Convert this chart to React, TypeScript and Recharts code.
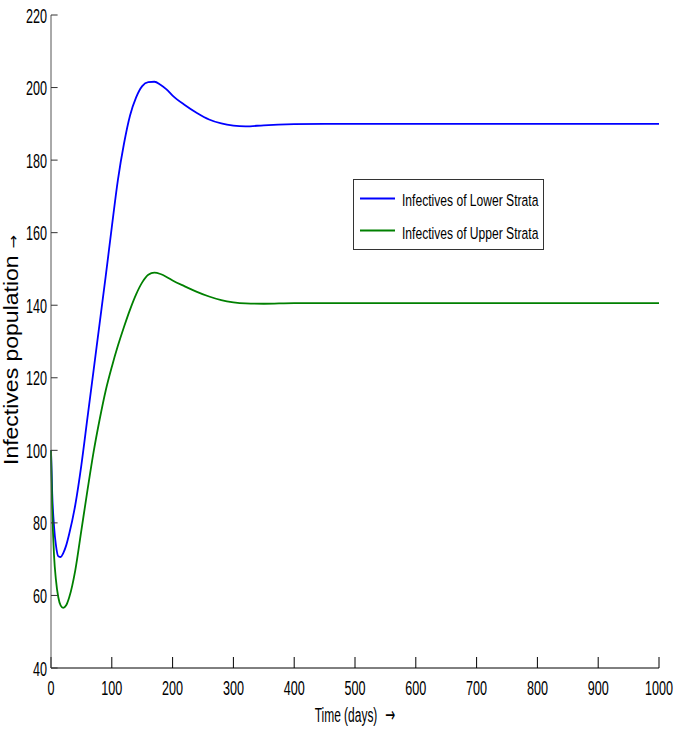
import { LineChart, Line, XAxis, YAxis, Legend, Label } from 'recharts'

// time in days
const time = [0, 2, 5, 8, 12, 16, 20, 25, 30, 40, 50, 60, 70, 80, 90, 100, 110, 120, 130, 140, 150, 160, 170, 180, 190, 200, 220, 240, 260, 280, 300, 320, 350, 400, 450, 500, 600, 700, 800, 900, 1000]
const lowerStrata = [100, 88, 79, 74, 70.8, 70.6, 71.6, 73.8, 77, 85, 96, 109, 122, 135, 148, 161.5, 174.5, 184.5, 192.3, 197.3, 200.4, 201.5, 201.6, 200.8, 199.5, 197.8, 195.2, 193, 191.2, 190.1, 189.5, 189.3, 189.6, 189.9, 190, 190, 190, 190, 190, 190, 190]
const upperStrata = [100, 84, 71, 64.5, 59.5, 57.2, 56.6, 57.3, 59.5, 67, 78, 89, 99.5, 108.5, 116.5, 123, 128.8, 134, 138.8, 143, 146.3, 148.4, 149, 148.6, 147.8, 146.8, 145.2, 143.7, 142.4, 141.4, 140.8, 140.5, 140.4, 140.6, 140.6, 140.6, 140.6, 140.6, 140.6, 140.6, 140.6]

const xTicks = [0, 100, 200, 300, 400, 500, 600, 700, 800, 900, 1000]
const yTicks = [40, 60, 80, 100, 120, 140, 160, 180, 200, 220]

const data = time.map((t, i) => ({ t, lower: lowerStrata[i], upper: upperStrata[i] }))

const FONT = 'Liberation Sans, Arial, sans-serif'
const ARROW_FONT = 'DejaVu Sans, sans-serif'

// the original's text is squeezed sideways, so labels are scaled on x
function XTick({ x, y, payload }: any) {
  return (
    <g transform={`translate(${x},${y + 15}) scale(0.6,1)`}>
      <text x={0} y={0} textAnchor="middle" fontSize={21} fontFamily={FONT} fill="#000">{payload.value}</text>
    </g>
  )
}

function YTick({ x, y, payload }: any) {
  return (
    <g transform={`translate(${x},${y + 7.5}) scale(0.6,1)`}>
      <text x={0} y={0} textAnchor="end" fontSize={21} fontFamily={FONT} fill="#000">{payload.value}</text>
    </g>
  )
}

function renderLegend({ payload }: any) {
  return (
    <svg width={191} height={71} style={{ display: 'block' }}>
      <rect x={0.5} y={0.5} width={190} height={70} fill="#fff" stroke="#333" />
      {(payload || []).map((p: any, i: number) => (
        <g key={p.value}>
          <line x1={7} x2={42} y1={19.5 + i * 32} y2={19.5 + i * 32} stroke={p.color} strokeWidth={2} />
          <g transform={`translate(49,${27 + i * 32.5}) scale(0.72,1)`}>
            <text x={0} y={0} fontSize={16.8} fontFamily={FONT} fill="#000">{p.value}</text>
          </g>
        </g>
      ))}
    </svg>
  )
}

export default function App() {
  const axisStroke = { stroke: '#000', strokeWidth: 1 }
  return (
    <div style={{ position: 'absolute', left: 0, top: 0, background: '#fff' }}>
      <LineChart width={687} height={730} data={data} margin={{ top: 15, right: 28, bottom: 0, left: 0 }}>
        <XAxis xAxisId="b" dataKey="t" type="number" domain={[0, 1000]} ticks={xTicks} interval={0}
          height={62} tickSize={-11} tickMargin={23} tick={<XTick />} axisLine={axisStroke} tickLine={axisStroke}>
          <Label content={({ viewBox }: any) => (
            <g transform={`translate(${viewBox.x + viewBox.width / 2},${viewBox.y + 53.5}) scale(0.57,1)`}>
              <text x={0} y={0} textAnchor="middle" fontSize={21} fontFamily={FONT} fill="#000">
                Time (days)<tspan dx={14} fontFamily={ARROW_FONT}>→</tspan>
              </text>
            </g>
          )} />
        </XAxis>
        <XAxis xAxisId="t" orientation="top" type="number" domain={[0, 1000]} ticks={xTicks} interval={0}
          height={0} tickSize={-11} tick={false} axisLine={axisStroke} tickLine={axisStroke} />
        <YAxis yAxisId="l" type="number" domain={[40, 220]} ticks={yTicks} interval={0}
          width={51} tickSize={-6.6} tickMargin={10.6} tick={<YTick />} axisLine={{ stroke: '#555' }} tickLine={{ stroke: '#333' }}>
          <Label content={({ viewBox }: any) => (
            <g transform={`translate(18,${viewBox.y + viewBox.height / 2 + 8.5}) rotate(-90) scale(1,0.85)`}>
              <text x={0} y={0} textAnchor="middle" fontSize={23} fontFamily={FONT} fill="#000">
                Infectives population<tspan dx={7} fontSize={16} fontFamily={ARROW_FONT}>→</tspan>
              </text>
            </g>
          )} />
        </YAxis>
        <YAxis yAxisId="r" orientation="right" type="number" domain={[40, 220]} ticks={yTicks} interval={0}
          width={0} tickSize={-6.6} tick={false} axisLine={{ stroke: '#555' }} tickLine={{ stroke: '#333' }} />
        <Legend layout="horizontal" verticalAlign="middle" align="center"
          wrapperStyle={{ left: 353, top: 179, width: 191, height: 71 }} content={renderLegend} />
        <Line xAxisId="b" yAxisId="l" type="monotone" dataKey="lower" name="Infectives of Lower Strata"
          stroke="#0000ff" strokeWidth={1.8} dot={false} isAnimationActive={false} />
        <Line xAxisId="b" yAxisId="l" type="monotone" dataKey="upper" name="Infectives of Upper Strata"
          stroke="#008000" strokeWidth={1.8} dot={false} isAnimationActive={false} />
      </LineChart>
    </div>
  )
}
